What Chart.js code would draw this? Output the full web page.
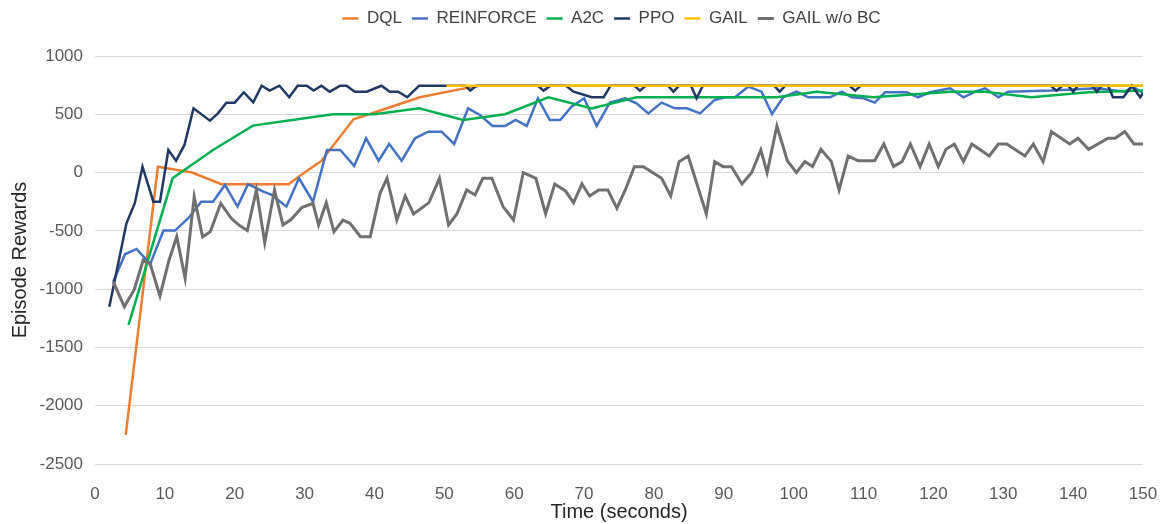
<!DOCTYPE html>
<html>
<head>
<meta charset="utf-8">
<script src="https://cdn.jsdelivr.net/npm/chart.js@4/dist/chart.umd.min.js"></script>
<style>
  html, body { margin: 0; padding: 0; background: #fff; }
  #wrap { width: 1166px; height: 524px; }
</style>
</head>
<body>
<div id="wrap"><canvas id="rewardChart"></canvas></div>
<script>
// series labels + colours
var seriesNames = ["DQL", "REINFORCE", "A2C", "PPO", "GAIL", "GAIL w/o BC"];
var seriesColors = ["#ED7D31", "#4472C4", "#00B050", "#203864", "#FFC000", "#707070"];

// DQL
var dqlTime = [4.4, 9, 13.9, 18.1, 27.7, 30, 32.4, 37, 40.3, 46.5, 52.7, 55.1, 150];
var dqlReward = [-2250, 50, 0, -100, -100, 0, 100, 457, 522, 646, 720, 745, 745];

// REINFORCE
var reinforceTime = [2.6, 4.3, 5.95, 7.9, 9.8, 11.45, 13.35, 15.2, 16.9, 18.6, 20.4, 21.9, 24.1, 25.3, 27.4, 29.2,
  31.2, 33.2, 35.1, 37.1, 38.8, 40.6, 42.1, 43.9, 45.8, 47.7, 49.6, 51.4, 53.4, 55.1, 56.9, 58.7, 60.2, 61.8,
  63.4, 65.1, 66.6, 68.2, 70, 71.8, 73.7, 75.9, 77.5, 79.2, 81.1, 83, 84.7, 86.6, 88.7, 90.2, 91.6, 93.5, 95.4,
  96.9, 98.5, 100.4, 102.1, 105.2, 106.9, 108.3, 110, 111.6, 113.1, 116.2, 117.8, 119.5, 122.4, 124.3, 126,
  127.4, 129.3, 130.7, 136.9, 143.4, 147.4, 148.6, 150];
var reinforceReward = [-936, -701, -655, -784, -498, -498, -392, -250, -250, -106, -292, -100, -163, -192, -292, -49,
  -250, 194, 194, 57, 294, 102, 245, 102, 294, 351, 351, 245, 551, 494, 400, 400, 451, 400,
  637, 451, 451, 565, 637, 400, 600, 637, 594, 508, 600, 551, 551, 508, 623, 646, 646, 737, 694,
  503, 646, 694, 646, 646, 694, 646, 637, 600, 689, 689, 646, 689, 723, 646, 694,
  723, 646, 694, 703, 723, 694, 737, 680];

// A2C
var a2cTime = [4.8, 11.1, 16.9, 22.6, 30, 34.1, 40, 46.4, 52.7, 58.7, 64.9, 71.1, 77.5, 91.6, 97.6, 103.3, 111.4, 122.4, 127.4, 134, 142.2, 150];
var a2cReward = [-1307, -49, 194, 403, 466, 500, 500, 551, 451, 500, 646, 551, 646, 646, 646, 694, 646, 694, 694, 646, 689, 703];

// PPO
var ppoTime = [2.05, 4.5, 5.7, 6.8, 8.35, 9.3, 10.5, 11.6, 12.8, 14.1, 16.45, 17.6, 18.8, 20, 21.3, 22.65, 23.85, 25,
  26.4, 27.8, 29, 30.3, 31.3, 32.4, 33.6, 35.1, 36, 37.2, 38.9, 41, 42.2, 43.4, 44.7, 46.4, 53, 53.7, 54.6,
  63.4, 64.2, 65.2, 67.4, 68.5, 71.1, 72.8, 73.8, 77.2, 78, 78.8, 82, 82.8, 83.6, 85.3, 86.1, 87,
  97.2, 98, 98.8, 108, 108.8, 109.6, 136.8, 137.6, 138.5, 139.3, 140, 140.7, 142.7, 143.4, 144.1, 145, 145.7,
  147.2, 148.4, 149.6, 150];
var ppoReward = [-1150, -435, -263, 50, -250, -250, 194, 102, 237, 551, 445, 508, 600, 600, 689, 603, 745, 703,
  745, 646, 745, 745, 703, 745, 694, 745, 745, 694, 694, 745, 694, 694, 646, 745, 745, 703, 745,
  745, 703, 745, 745, 694, 646, 646, 745, 745, 703, 745, 745, 694, 745, 745, 637, 745,
  745, 694, 745, 745, 703, 745, 745, 703, 745, 745, 694, 745, 745, 694, 745, 745, 646,
  646, 745, 646, 680];

// GAIL
var gailTime = [50.3, 75, 100, 125, 150];
var gailReward = [745, 745, 745, 745, 745];

// GAIL w/o BC
var gailNoBcTime = [2.6, 4.2, 5.6, 6.9, 7.9, 9.3, 10.6, 11.7, 12.9, 14.2, 15.4, 16.5, 18, 19.5, 20.6, 21.8, 23.1,
  24.3, 25.7, 26.9, 28.1, 29.6, 31.2, 32, 33.1, 34.2, 35.5, 36.5, 38, 39.4, 40.8, 41.8, 43.2, 44.4, 45.6,
  47.8, 49.3, 50.6, 51.8, 53.2, 54.4, 55.5, 56.8, 58.4, 59.9, 61.3, 63.1, 64.5, 65.8, 67.3, 68.5, 69.7,
  70.8, 72.1, 73.4, 74.7, 75.9, 77.2, 78.5, 81.1, 82.4, 83.6, 84.9, 87.5, 88.7, 89.9, 91.1, 92.6, 94,
  95.3, 96.2, 97.6, 99.1, 100.4, 101.6, 102.7, 103.9, 105.4, 106.5, 107.8, 109.2, 111.6, 112.9, 114.3,
  115.5, 116.7, 118.1, 119.4, 120.7, 121.8, 123, 124.3, 125.5, 128, 129.3, 130.5, 133.1, 134.3, 135.7,
  136.9, 139.5, 140.7, 142.2, 145, 146, 147.4, 148.7, 150];
var gailNoBcReward = [-936, -1150, -1007, -750, -784, -1058, -750, -550, -907, -207, -550, -507, -264, -392, -450, -498, -149,
  -601, -149, -450, -401, -300, -264, -450, -258, -507, -407, -435, -550, -550, -178, -49, -407, -201, -355,
  -258, -49, -450, -355, -149, -192, -49, -49, -292, -407, 0, -49, -355, -98, -155, -258, -98,
  -201, -149, -149, -306, -149, 51, 51, -49, -201, 94, 142, -355, 94, 51, 51, -98, 0,
  194, 0, 400, 102, 0, 94, 51, 200, 94, -149, 142, 102, 102, 245, 51,
  94, 245, 51, 245, 51, 200, 245, 94, 245, 142, 245, 245, 142, 245, 94,
  351, 245, 294, 200, 294, 294, 351, 245, 245];

// tick settings
var xMin = 0, xMax = 150, xStep = 10;
var yMin = -2500, yMax = 1000, yStep = 500;

function toPoints(xs, ys) {
  return xs.map(function(x, i) { return { x: x, y: ys[i] }; });
}

var allTimes = [dqlTime, reinforceTime, a2cTime, ppoTime, gailTime, gailNoBcTime];
var allRewards = [dqlReward, reinforceReward, a2cReward, ppoReward, gailReward, gailNoBcReward];

var datasets = seriesNames.map(function(name, i) {
  return {
    label: name,
    data: toPoints(allTimes[i], allRewards[i]),
    borderColor: seriesColors[i],
    backgroundColor: seriesColors[i],
    borderWidth: i == 5 ? 3 : 2.5,
    pointRadius: 0,
    tension: 0,
    fill: false,
    // later series sit on top, like the original
    order: seriesNames.length - i
  };
});

var tickFont = { family: "'Liberation Sans', Arial, sans-serif", size: 17 };
var titleFont = { family: "'Liberation Sans', Arial, sans-serif", size: 20 };

// push the plot down under the legend, and nudge the legend right
var legendGap = {
  id: "legendGap",
  beforeInit: function(chart) {
    var fit = chart.legend.fit;
    chart.legend.fit = function() {
      fit.bind(chart.legend)();
      this.height += 19;
    };
  },
  afterLayout: function(chart) {
    chart.legend.left += 32;
    chart.legend.right += 32;
  }
};

new Chart("rewardChart", {
  type: "line",
  data: { datasets: datasets },
  plugins: [legendGap],
  options: {
    responsive: true,
    maintainAspectRatio: false,
    animation: false,
    layout: { padding: { left: 0, right: 7, top: 0, bottom: 0 } },
    plugins: {
      legend: {
        position: "top",
        labels: {
          usePointStyle: true,
          pointStyle: "line",
          pointStyleWidth: 16,
          padding: 10,
          color: "#404040",
          font: tickFont,
          sort: function(a, b) { return a.datasetIndex - b.datasetIndex; }
        }
      },
      tooltip: { enabled: false }
    },
    scales: {
      x: {
        type: "linear",
        min: xMin,
        max: xMax,
        ticks: { stepSize: xStep, color: "#595959", font: tickFont, padding: 12, maxRotation: 0,
          callback: function(v) { return String(v); } },
        grid: { display: false },
        border: { display: false },
        title: { display: true, text: "Time (seconds)", color: "#262626", font: titleFont, padding: 0 },
        afterFit: function(s) { s.height = 60; s.paddingRight = 23; }
      },
      y: {
        min: yMin,
        max: yMax,
        ticks: { stepSize: yStep, color: "#595959", font: tickFont, padding: 12,
          callback: function(v) { return String(v); } },
        grid: { color: "#d9d9d9", lineWidth: 1, drawTicks: false },
        border: { display: false },
        title: { display: true, text: "Episode Rewards", color: "#262626", font: titleFont, padding: { top: 8, bottom: 0 } },
        afterFit: function(s) { s.width = 95; }
      }
    }
  }
});
</script>
</body>
</html>
